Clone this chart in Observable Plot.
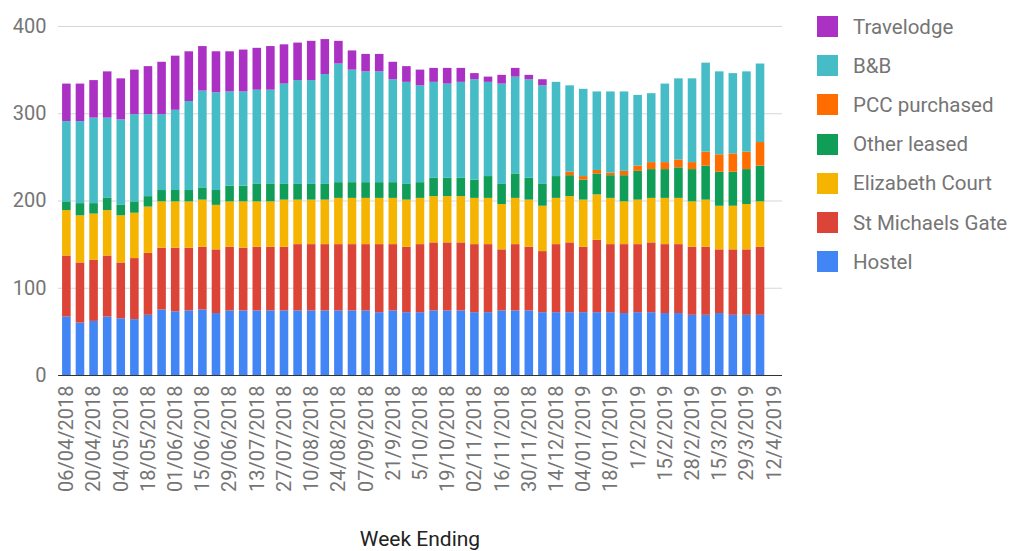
<!DOCTYPE html>
<html><head><meta charset="utf-8">
<script src="https://cdn.jsdelivr.net/npm/d3@7"></script>
<script src="https://cdn.jsdelivr.net/npm/@observablehq/plot@0.6"></script>
<style>
body{margin:0;background:#fff;font-family:Roboto,sans-serif;}
#wrap{position:relative;width:1015px;height:551px;overflow:hidden;}
#legend{position:absolute;left:817px;top:7px;}
.row{display:flex;align-items:center;height:39.2px;}
.sw{width:21px;height:21px;margin-right:15px;}
.lab{font-size:20.5px;color:#757575;white-space:nowrap;}
#xtitle{position:absolute;left:0;width:840px;text-align:center;top:527px;font-size:21px;color:#222;}
</style></head><body>
<div id="wrap"><div id="chart"></div><div id="legend"></div><div id="xtitle">Week Ending</div></div>
<script>
const weeks = ["06/04/2018","13/04/2018","20/04/2018","27/04/2018","04/05/2018","11/05/2018","18/05/2018","25/05/2018","01/06/2018","08/06/2018","15/06/2018","22/06/2018","29/06/2018","06/07/2018","13/07/2018","20/07/2018","27/07/2018","03/08/2018","10/08/2018","17/08/2018","24/08/2018","31/08/2018","07/09/2018","14/09/2018","21/9/2018","28/9/2018","5/10/2018","12/10/2018","19/10/2018","26/10/2018","02/11/2018","09/11/2018","16/11/2018","23/11/2018","30/11/2018","07/12/2018","14/12/2018","21/12/2018","04/01/2019","11/01/2019","18/01/2019","25/01/2019","1/2/2019","8/2/2019","15/2/2019","22/2/2019","28/2/2019","8/3/2019","15/3/2019","22/3/2019","29/3/2019","5/4/2019","12/4/2019"];
const tickLabels = ["06/04/2018","20/04/2018","04/05/2018","18/05/2018","01/06/2018","15/06/2018","29/06/2018","13/07/2018","27/07/2018","10/08/2018","24/08/2018","07/09/2018","21/9/2018","5/10/2018","19/10/2018","02/11/2018","16/11/2018","30/11/2018","14/12/2018","04/01/2019","18/01/2019","1/2/2019","15/2/2019","28/2/2019","15/3/2019","29/3/2019","12/4/2019"];
const hostel =      [67,60,62,67,65,64,69,75,73,74,75,71,74,74,74,74,74,74,74,74,74,74,74,72,74,72,72,74,74,74,72,72,74,74,74,72,72,72,72,72,72,71,72,72,71,71,69,69,71,69,69,69];
const stMichaels =  [70,69,70,70,64,70,71,71,73,72,72,73,73,72,73,73,73,76,76,76,76,76,76,78,76,75,78,78,78,78,78,78,70,76,73,70,78,80,75,83,78,79,78,80,79,79,78,78,73,75,75,78];
const elizabeth =   [52,54,53,52,54,52,53,53,53,53,54,51,52,53,52,52,54,51,51,51,53,53,53,53,53,54,53,53,53,53,53,53,52,53,54,52,53,53,54,52,53,49,51,51,53,53,52,54,50,50,52,52];
const otherLeased = [10,14,12,14,12,13,12,13,13,13,14,17,18,18,20,20,18,18,18,18,18,18,18,18,18,18,18,21,21,21,21,25,23,28,25,25,25,24,23,24,26,30,33,33,33,35,37,39,39,39,40,41];
const pcc =         [0,0,0,0,0,0,0,0,0,0,0,0,0,0,0,0,0,0,0,0,0,0,0,0,0,0,0,0,0,0,0,0,0,0,0,0,0,4,4,4,3,5,6,8,8,9,8,16,20,21,20,27];
const bnb =         [92,94,98,92,98,100,94,87,92,102,111,112,108,108,108,108,115,119,119,126,136,129,127,127,118,117,111,110,108,110,115,108,115,111,113,113,108,99,100,90,93,91,81,79,90,93,96,102,95,92,92,90];
const travelodge =  [43,43,43,53,47,51,55,60,62,57,51,47,46,48,48,50,45,43,45,40,26,22,20,20,20,18,18,16,18,16,7,6,10,10,5,7,0,0,0,0,0,0,0,0,0,0,0,0,0,0,0,0];
const seriesNames = ["Hostel","St Michaels Gate","Elizabeth Court","Other leased","PCC purchased","B&B","Travelodge"];
const seriesValues = [hostel, stMichaels, elizabeth, otherLeased, pcc, bnb, travelodge];
const colors = ["#4285F4","#DB4437","#F4B400","#0F9D58","#FF6D00","#46BDC6","#AB30C4"];
const legendOrder = ["Travelodge","B&B","PCC purchased","Other leased","Elizabeth Court","St Michaels Gate","Hostel"];

const table = seriesNames.flatMap((s, k) => seriesValues[k].map((v, i) => ({week: weeks[i], series: s, value: v})));

const chart = Plot.plot({
  width: 1015, height: 551,
  marginLeft: 58, marginRight: 233, marginTop: 26, marginBottom: 176,
  style: {fontFamily: "Roboto, sans-serif", fontSize: "20px", color: "#757575", background: "#fff"},
  x: {domain: weeks, paddingInner: 0.37, paddingOuter: 0.3, round: false, label: null},
  y: {domain: [0, 400], label: null},
  color: {domain: seriesNames, range: colors},
  marks: [
    Plot.gridY([100, 200, 300, 400], {stroke: "#d6d6d6", strokeOpacity: 1}),
    Plot.barY(table, Plot.stackY({x: "week", y: "value", fill: "series", order: seriesNames})),
    Plot.ruleY([0], {stroke: "#333", strokeWidth: 1.2}),
    Plot.axisY({ticks: [0, 100, 200, 300, 400], tickSize: 0, tickPadding: 12, label: null}),
    Plot.axisX({ticks: tickLabels, tickSize: 0, tickRotate: -90, tickPadding: 10, label: null})
  ]
});
document.getElementById("chart").appendChild(chart);

const leg = document.getElementById("legend");
legendOrder.forEach(name => {
  const row = document.createElement("div"); row.className = "row";
  const sw = document.createElement("div"); sw.className = "sw";
  sw.style.background = colors[seriesNames.indexOf(name)];
  const lab = document.createElement("div"); lab.className = "lab"; lab.textContent = name;
  row.appendChild(sw); row.appendChild(lab); leg.appendChild(row);
});
</script>
</body></html>
